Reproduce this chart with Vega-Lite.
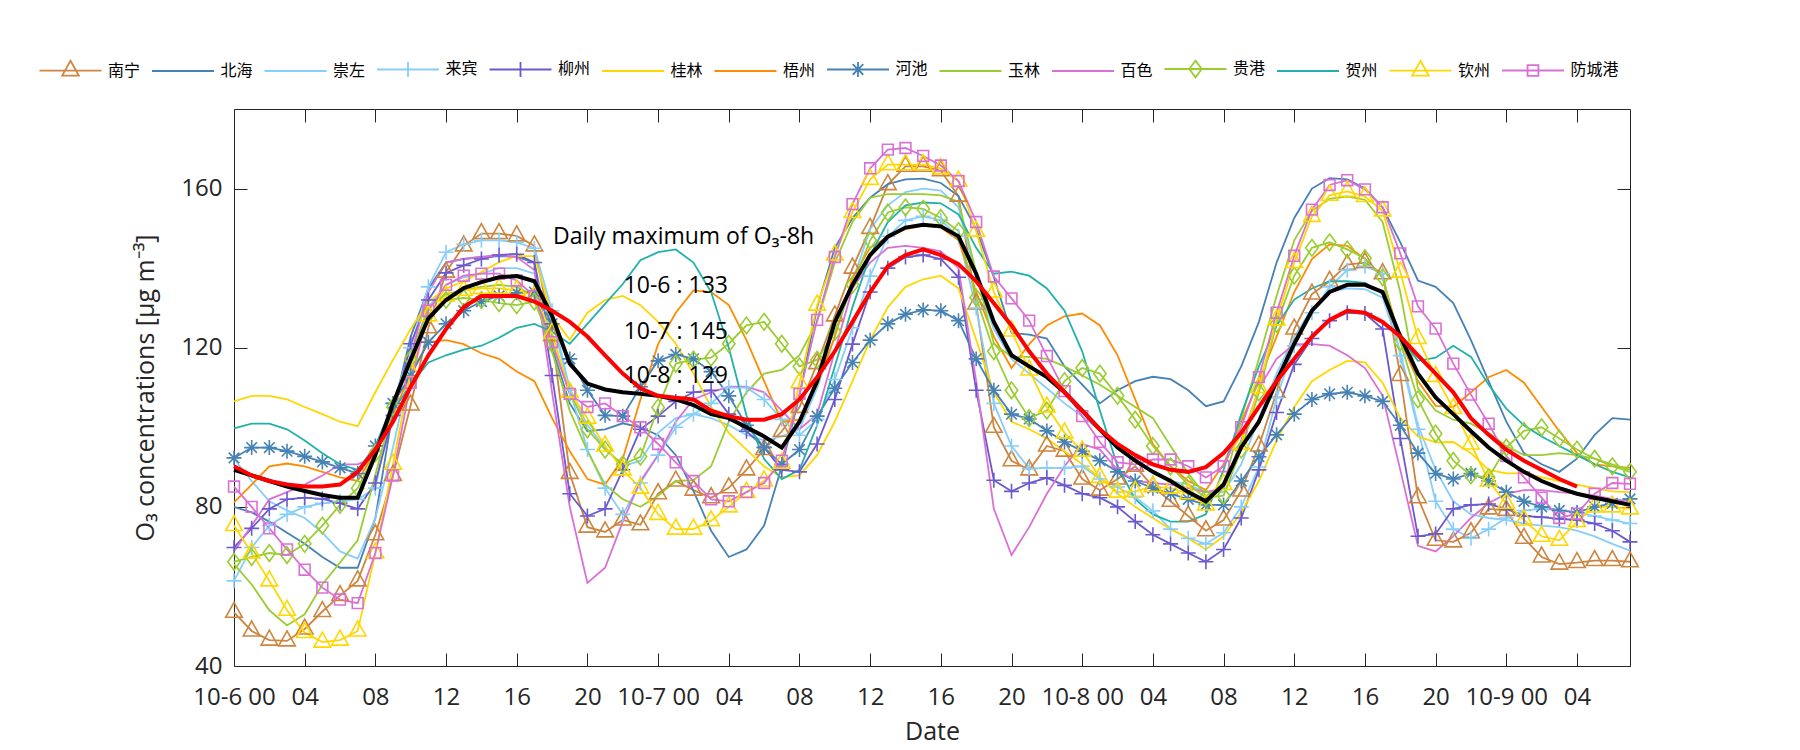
{
"$schema": "https://vega.github.io/schema/vega-lite/v6.json",
"width": 1396, "height": 557,
"autosize": {"type": "none"},
"padding": {"left": 234, "top": 109, "right": 170, "bottom": 84},
"background": "white",
"config": {
 "view": {"stroke": "#262626", "strokeWidth": 1},
 "font": "Open Sans",
 "axis": {"labelFont": "Open Sans", "titleFont": "Open Sans", "labelColor": "#262626", "titleColor": "#262626", "titleFontWeight": "normal", "tickColor": "#262626", "tickWidth": 1, "grid": false, "domain": false}
},
"datasets": {
"obs": [
{"stn":"南宁","hr":0,"o3":53.5},{"stn":"南宁","hr":1,"o3":48.8},{"stn":"南宁","hr":2,"o3":46.5},{"stn":"南宁","hr":3,"o3":46.3},{"stn":"南宁","hr":4,"o3":49.3},{"stn":"南宁","hr":5,"o3":53.7},{"stn":"南宁","hr":6,"o3":57.7},{"stn":"南宁","hr":7,"o3":61.4},{"stn":"南宁","hr":8,"o3":73},{"stn":"南宁","hr":9,"o3":87.9},
{"stn":"南宁","hr":10,"o3":105.6},{"stn":"南宁","hr":11,"o3":125},{"stn":"南宁","hr":12,"o3":139},{"stn":"南宁","hr":13,"o3":145.6},{"stn":"南宁","hr":14,"o3":148.7},{"stn":"南宁","hr":15,"o3":148.7},{"stn":"南宁","hr":16,"o3":148.1},{"stn":"南宁","hr":17,"o3":145.6},{"stn":"南宁","hr":18,"o3":123},{"stn":"南宁","hr":19,"o3":88.4},
{"stn":"南宁","hr":20,"o3":74.9},{"stn":"南宁","hr":21,"o3":73.7},{"stn":"南宁","hr":22,"o3":76.7},{"stn":"南宁","hr":23,"o3":75.5},{"stn":"南宁","hr":24,"o3":83.3},{"stn":"南宁","hr":25,"o3":86.5},{"stn":"南宁","hr":26,"o3":84.2},{"stn":"南宁","hr":27,"o3":82.3},{"stn":"南宁","hr":28,"o3":84.8},{"stn":"南宁","hr":29,"o3":89.3},
{"stn":"南宁","hr":30,"o3":94.4},{"stn":"南宁","hr":31,"o3":99},{"stn":"南宁","hr":32,"o3":105},{"stn":"南宁","hr":33,"o3":116},{"stn":"南宁","hr":34,"o3":128},{"stn":"南宁","hr":35,"o3":140},{"stn":"南宁","hr":36,"o3":150},{"stn":"南宁","hr":37,"o3":161},{"stn":"南宁","hr":38,"o3":165.6},{"stn":"南宁","hr":39,"o3":165.6},
{"stn":"南宁","hr":40,"o3":164.5},{"stn":"南宁","hr":41,"o3":158.1},{"stn":"南宁","hr":42,"o3":131},{"stn":"南宁","hr":43,"o3":100},{"stn":"南宁","hr":44,"o3":91.6},{"stn":"南宁","hr":45,"o3":89.3},{"stn":"南宁","hr":46,"o3":95.3},{"stn":"南宁","hr":47,"o3":94},{"stn":"南宁","hr":48,"o3":87},{"stn":"南宁","hr":49,"o3":84.2},
{"stn":"南宁","hr":50,"o3":87},{"stn":"南宁","hr":51,"o3":90.2},{"stn":"南宁","hr":52,"o3":85.1},{"stn":"南宁","hr":53,"o3":81.4},{"stn":"南宁","hr":54,"o3":77.7},{"stn":"南宁","hr":55,"o3":74},{"stn":"南宁","hr":56,"o3":76.7},{"stn":"南宁","hr":57,"o3":84},{"stn":"南宁","hr":58,"o3":95.3},{"stn":"南宁","hr":59,"o3":108.8},
{"stn":"南宁","hr":60,"o3":124.7},{"stn":"南宁","hr":61,"o3":133.5},{"stn":"南宁","hr":62,"o3":136.7},{"stn":"南宁","hr":63,"o3":140.9},{"stn":"南宁","hr":64,"o3":141.4},{"stn":"南宁","hr":65,"o3":138.6},{"stn":"南宁","hr":66,"o3":113},{"stn":"南宁","hr":67,"o3":82.3},{"stn":"南宁","hr":68,"o3":71.6},{"stn":"南宁","hr":69,"o3":71.2},
{"stn":"南宁","hr":70,"o3":73.5},{"stn":"南宁","hr":71,"o3":79.5},{"stn":"南宁","hr":72,"o3":79.1},{"stn":"南宁","hr":73,"o3":72.1},{"stn":"南宁","hr":74,"o3":67.4},{"stn":"南宁","hr":75,"o3":65.6},{"stn":"南宁","hr":76,"o3":66},{"stn":"南宁","hr":77,"o3":66.5},{"stn":"南宁","hr":78,"o3":66.5},{"stn":"南宁","hr":79,"o3":66.2},
{"stn":"北海","hr":0,"o3":80},{"stn":"北海","hr":1,"o3":78.6},{"stn":"北海","hr":2,"o3":76.3},{"stn":"北海","hr":3,"o3":73.5},{"stn":"北海","hr":4,"o3":70.7},{"stn":"北海","hr":5,"o3":67.4},{"stn":"北海","hr":6,"o3":64.7},{"stn":"北海","hr":7,"o3":64.7},{"stn":"北海","hr":8,"o3":77.2},{"stn":"北海","hr":9,"o3":104.2},
{"stn":"北海","hr":10,"o3":122.8},{"stn":"北海","hr":11,"o3":134.9},{"stn":"北海","hr":12,"o3":141.4},{"stn":"北海","hr":13,"o3":142.3},{"stn":"北海","hr":14,"o3":142.8},{"stn":"北海","hr":15,"o3":143},{"stn":"北海","hr":16,"o3":142.8},{"stn":"北海","hr":17,"o3":141.4},{"stn":"北海","hr":18,"o3":120},{"stn":"北海","hr":19,"o3":106},
{"stn":"北海","hr":20,"o3":99},{"stn":"北海","hr":21,"o3":99.5},{"stn":"北海","hr":22,"o3":101},{"stn":"北海","hr":23,"o3":100},{"stn":"北海","hr":24,"o3":98},{"stn":"北海","hr":25,"o3":93},{"stn":"北海","hr":26,"o3":84},{"stn":"北海","hr":27,"o3":74},{"stn":"北海","hr":28,"o3":67.4},{"stn":"北海","hr":29,"o3":69.3},
{"stn":"北海","hr":30,"o3":75.3},{"stn":"北海","hr":31,"o3":90.2},{"stn":"北海","hr":32,"o3":107.9},{"stn":"北海","hr":33,"o3":130.2},{"stn":"北海","hr":34,"o3":145.1},{"stn":"北海","hr":35,"o3":152.6},{"stn":"北海","hr":36,"o3":157.7},{"stn":"北海","hr":37,"o3":161.1},{"stn":"北海","hr":38,"o3":162.3},{"stn":"北海","hr":39,"o3":162.5},
{"stn":"北海","hr":40,"o3":161.4},{"stn":"北海","hr":41,"o3":158.1},{"stn":"北海","hr":42,"o3":149.8},{"stn":"北海","hr":43,"o3":137.7},{"stn":"北海","hr":44,"o3":123.7},{"stn":"北海","hr":45,"o3":123.3},{"stn":"北海","hr":46,"o3":122.3},{"stn":"北海","hr":47,"o3":115.3},{"stn":"北海","hr":48,"o3":110.7},{"stn":"北海","hr":49,"o3":106},
{"stn":"北海","hr":50,"o3":109.3},{"stn":"北海","hr":51,"o3":111.6},{"stn":"北海","hr":52,"o3":112.7},{"stn":"北海","hr":53,"o3":112.1},{"stn":"北海","hr":54,"o3":109.3},{"stn":"北海","hr":55,"o3":105.3},{"stn":"北海","hr":56,"o3":106.5},{"stn":"北海","hr":57,"o3":115.3},{"stn":"北海","hr":58,"o3":126.5},{"stn":"北海","hr":59,"o3":141.4},
{"stn":"北海","hr":60,"o3":152.6},{"stn":"北海","hr":61,"o3":160},{"stn":"北海","hr":62,"o3":162.6},{"stn":"北海","hr":63,"o3":162.3},{"stn":"北海","hr":64,"o3":160},{"stn":"北海","hr":65,"o3":155.3},{"stn":"北海","hr":66,"o3":146.5},{"stn":"北海","hr":67,"o3":136.9},{"stn":"北海","hr":68,"o3":135.3},{"stn":"北海","hr":69,"o3":131.2},
{"stn":"北海","hr":70,"o3":121.9},{"stn":"北海","hr":71,"o3":111.6},{"stn":"北海","hr":72,"o3":101.4},{"stn":"北海","hr":73,"o3":93.5},{"stn":"北海","hr":74,"o3":90.7},{"stn":"北海","hr":75,"o3":88.8},{"stn":"北海","hr":76,"o3":92.1},{"stn":"北海","hr":77,"o3":98.1},{"stn":"北海","hr":78,"o3":102.3},{"stn":"北海","hr":79,"o3":101.9},
{"stn":"崇左","hr":0,"o3":92.1},{"stn":"崇左","hr":1,"o3":86.5},{"stn":"崇左","hr":2,"o3":81.4},{"stn":"崇左","hr":3,"o3":79.1},{"stn":"崇左","hr":4,"o3":77.2},{"stn":"崇左","hr":5,"o3":73.5},{"stn":"崇左","hr":6,"o3":68.8},{"stn":"崇左","hr":7,"o3":67},{"stn":"崇左","hr":8,"o3":77.2},{"stn":"崇左","hr":9,"o3":95},
{"stn":"崇左","hr":10,"o3":115.3},{"stn":"崇左","hr":11,"o3":130.2},{"stn":"崇左","hr":12,"o3":135.8},{"stn":"崇左","hr":13,"o3":137.7},{"stn":"崇左","hr":14,"o3":138.6},{"stn":"崇左","hr":15,"o3":140},{"stn":"崇左","hr":16,"o3":140},{"stn":"崇左","hr":17,"o3":138.6},{"stn":"崇左","hr":18,"o3":126.5},{"stn":"崇左","hr":19,"o3":109.8},
{"stn":"崇左","hr":20,"o3":100.5},{"stn":"崇左","hr":21,"o3":94.9},{"stn":"崇左","hr":22,"o3":90.2},{"stn":"崇左","hr":23,"o3":91.6},{"stn":"崇左","hr":24,"o3":98.6},{"stn":"崇左","hr":25,"o3":102.3},{"stn":"崇左","hr":26,"o3":103.3},{"stn":"崇左","hr":27,"o3":102.3},{"stn":"崇左","hr":28,"o3":100.5},{"stn":"崇左","hr":29,"o3":98.1},
{"stn":"崇左","hr":30,"o3":96.7},{"stn":"崇左","hr":31,"o3":97.7},{"stn":"崇左","hr":32,"o3":99.5},{"stn":"崇左","hr":33,"o3":109.8},{"stn":"崇左","hr":34,"o3":122.8},{"stn":"崇左","hr":35,"o3":136.7},{"stn":"崇左","hr":36,"o3":149.8},{"stn":"崇左","hr":37,"o3":155.8},{"stn":"崇左","hr":38,"o3":159.1},{"stn":"崇左","hr":39,"o3":160},
{"stn":"崇左","hr":40,"o3":159.5},{"stn":"崇左","hr":41,"o3":155.3},{"stn":"崇左","hr":42,"o3":137.7},{"stn":"崇左","hr":43,"o3":124.7},{"stn":"崇左","hr":44,"o3":117.2},{"stn":"崇左","hr":45,"o3":113.5},{"stn":"崇左","hr":46,"o3":109.8},{"stn":"崇左","hr":47,"o3":106},{"stn":"崇左","hr":48,"o3":102.8},{"stn":"崇左","hr":49,"o3":99.1},
{"stn":"崇左","hr":50,"o3":95.3},{"stn":"崇左","hr":51,"o3":91.6},{"stn":"崇左","hr":52,"o3":88.4},{"stn":"崇左","hr":53,"o3":86.5},{"stn":"崇左","hr":54,"o3":85.6},{"stn":"崇左","hr":55,"o3":83.7},{"stn":"崇左","hr":56,"o3":83.7},{"stn":"崇左","hr":57,"o3":90.7},{"stn":"崇左","hr":58,"o3":102.3},{"stn":"崇左","hr":59,"o3":113.5},
{"stn":"崇左","hr":60,"o3":122.8},{"stn":"崇左","hr":61,"o3":129.8},{"stn":"崇左","hr":62,"o3":134},{"stn":"崇左","hr":63,"o3":134.9},{"stn":"崇左","hr":64,"o3":134.7},{"stn":"崇左","hr":65,"o3":132.6},{"stn":"崇左","hr":66,"o3":119.1},{"stn":"崇左","hr":67,"o3":100.5},{"stn":"崇左","hr":68,"o3":89.3},{"stn":"崇左","hr":69,"o3":81.4},
{"stn":"崇左","hr":70,"o3":78.1},{"stn":"崇左","hr":71,"o3":77.2},{"stn":"崇左","hr":72,"o3":76.7},{"stn":"崇左","hr":73,"o3":75.8},{"stn":"崇左","hr":74,"o3":75.3},{"stn":"崇左","hr":75,"o3":74.9},{"stn":"崇左","hr":76,"o3":74},{"stn":"崇左","hr":77,"o3":72.6},{"stn":"崇左","hr":78,"o3":70.7},{"stn":"崇左","hr":79,"o3":69},
{"stn":"来宾","hr":0,"o3":61.4},{"stn":"来宾","hr":1,"o3":69.8},{"stn":"来宾","hr":2,"o3":75.3},{"stn":"来宾","hr":3,"o3":78.1},{"stn":"来宾","hr":4,"o3":80},{"stn":"来宾","hr":5,"o3":80.9},{"stn":"来宾","hr":6,"o3":81.4},{"stn":"来宾","hr":7,"o3":81.9},{"stn":"来宾","hr":8,"o3":84.7},{"stn":"来宾","hr":9,"o3":106},
{"stn":"来宾","hr":10,"o3":120},{"stn":"来宾","hr":11,"o3":135.3},{"stn":"来宾","hr":12,"o3":144},{"stn":"来宾","hr":13,"o3":146},{"stn":"来宾","hr":14,"o3":147},{"stn":"来宾","hr":15,"o3":147},{"stn":"来宾","hr":16,"o3":146.5},{"stn":"来宾","hr":17,"o3":145},{"stn":"来宾","hr":18,"o3":129.3},{"stn":"来宾","hr":19,"o3":109.3},
{"stn":"来宾","hr":20,"o3":94.4},{"stn":"来宾","hr":21,"o3":84.7},{"stn":"来宾","hr":22,"o3":78.1},{"stn":"来宾","hr":23,"o3":86},{"stn":"来宾","hr":24,"o3":93},{"stn":"来宾","hr":25,"o3":100},{"stn":"来宾","hr":26,"o3":103.3},{"stn":"来宾","hr":27,"o3":106},{"stn":"来宾","hr":28,"o3":110},{"stn":"来宾","hr":29,"o3":110},
{"stn":"来宾","hr":30,"o3":107},{"stn":"来宾","hr":31,"o3":102},{"stn":"来宾","hr":32,"o3":98},{"stn":"来宾","hr":33,"o3":102},{"stn":"来宾","hr":34,"o3":112},{"stn":"来宾","hr":35,"o3":125},{"stn":"来宾","hr":36,"o3":138},{"stn":"来宾","hr":37,"o3":148},{"stn":"来宾","hr":38,"o3":152},{"stn":"来宾","hr":39,"o3":153},
{"stn":"来宾","hr":40,"o3":152},{"stn":"来宾","hr":41,"o3":148},{"stn":"来宾","hr":42,"o3":130},{"stn":"来宾","hr":43,"o3":106},{"stn":"来宾","hr":44,"o3":95.3},{"stn":"来宾","hr":45,"o3":89.6},{"stn":"来宾","hr":46,"o3":89.8},{"stn":"来宾","hr":47,"o3":89.8},{"stn":"来宾","hr":48,"o3":90.2},{"stn":"来宾","hr":49,"o3":87},
{"stn":"来宾","hr":50,"o3":85},{"stn":"来宾","hr":51,"o3":82.5},{"stn":"来宾","hr":52,"o3":79},{"stn":"来宾","hr":53,"o3":74.4},{"stn":"来宾","hr":54,"o3":72.1},{"stn":"来宾","hr":55,"o3":70.7},{"stn":"来宾","hr":56,"o3":73.5},{"stn":"来宾","hr":57,"o3":80},{"stn":"来宾","hr":58,"o3":90},{"stn":"来宾","hr":59,"o3":107.4},
{"stn":"来宾","hr":60,"o3":120.5},{"stn":"来宾","hr":61,"o3":128.8},{"stn":"来宾","hr":62,"o3":135.3},{"stn":"来宾","hr":63,"o3":139.5},{"stn":"来宾","hr":64,"o3":140.5},{"stn":"来宾","hr":65,"o3":138.6},{"stn":"来宾","hr":66,"o3":118},{"stn":"来宾","hr":67,"o3":99.5},{"stn":"来宾","hr":68,"o3":81.4},{"stn":"来宾","hr":69,"o3":74.4},
{"stn":"来宾","hr":70,"o3":72.1},{"stn":"来宾","hr":71,"o3":74.4},{"stn":"来宾","hr":72,"o3":77.2},{"stn":"来宾","hr":73,"o3":79.1},{"stn":"来宾","hr":74,"o3":79.5},{"stn":"来宾","hr":75,"o3":79.1},{"stn":"来宾","hr":76,"o3":78.6},{"stn":"来宾","hr":77,"o3":77.7},{"stn":"来宾","hr":78,"o3":76.7},{"stn":"来宾","hr":79,"o3":75.8},
{"stn":"柳州","hr":0,"o3":69.8},{"stn":"柳州","hr":1,"o3":74.6},{"stn":"柳州","hr":2,"o3":79.5},{"stn":"柳州","hr":3,"o3":81.9},{"stn":"柳州","hr":4,"o3":82.3},{"stn":"柳州","hr":5,"o3":82},{"stn":"柳州","hr":6,"o3":80.9},{"stn":"柳州","hr":7,"o3":79.5},{"stn":"柳州","hr":8,"o3":86},{"stn":"柳州","hr":9,"o3":103},
{"stn":"柳州","hr":10,"o3":121},{"stn":"柳州","hr":11,"o3":132},{"stn":"柳州","hr":12,"o3":138.8},{"stn":"柳州","hr":13,"o3":140.7},{"stn":"柳州","hr":14,"o3":142.3},{"stn":"柳州","hr":15,"o3":143.3},{"stn":"柳州","hr":16,"o3":143.5},{"stn":"柳州","hr":17,"o3":141.4},{"stn":"柳州","hr":18,"o3":113},{"stn":"柳州","hr":19,"o3":83.3},
{"stn":"柳州","hr":20,"o3":77.7},{"stn":"柳州","hr":21,"o3":79.5},{"stn":"柳州","hr":22,"o3":89.3},{"stn":"柳州","hr":23,"o3":99.5},{"stn":"柳州","hr":24,"o3":102.8},{"stn":"柳州","hr":25,"o3":106.5},{"stn":"柳州","hr":26,"o3":108.8},{"stn":"柳州","hr":27,"o3":109.3},{"stn":"柳州","hr":28,"o3":103.3},{"stn":"柳州","hr":29,"o3":99},
{"stn":"柳州","hr":30,"o3":95},{"stn":"柳州","hr":31,"o3":89.3},{"stn":"柳州","hr":32,"o3":88.8},{"stn":"柳州","hr":33,"o3":95.8},{"stn":"柳州","hr":34,"o3":107},{"stn":"柳州","hr":35,"o3":120.9},{"stn":"柳州","hr":36,"o3":134},{"stn":"柳州","hr":37,"o3":140},{"stn":"柳州","hr":38,"o3":142.8},{"stn":"柳州","hr":39,"o3":143.3},
{"stn":"柳州","hr":40,"o3":142.3},{"stn":"柳州","hr":41,"o3":137.7},{"stn":"柳州","hr":42,"o3":109.3},{"stn":"柳州","hr":43,"o3":86.7},{"stn":"柳州","hr":44,"o3":83.9},{"stn":"柳州","hr":45,"o3":86},{"stn":"柳州","hr":46,"o3":87.3},{"stn":"柳州","hr":47,"o3":85.4},{"stn":"柳州","hr":48,"o3":83.3},{"stn":"柳州","hr":49,"o3":82.3},
{"stn":"柳州","hr":50,"o3":80},{"stn":"柳州","hr":51,"o3":76.3},{"stn":"柳州","hr":52,"o3":73},{"stn":"柳州","hr":53,"o3":70.7},{"stn":"柳州","hr":54,"o3":68.4},{"stn":"柳州","hr":55,"o3":66.2},{"stn":"柳州","hr":56,"o3":69.3},{"stn":"柳州","hr":57,"o3":77.2},{"stn":"柳州","hr":58,"o3":89.3},{"stn":"柳州","hr":59,"o3":103.7},
{"stn":"柳州","hr":60,"o3":115.8},{"stn":"柳州","hr":61,"o3":122.3},{"stn":"柳州","hr":62,"o3":126.8},{"stn":"柳州","hr":63,"o3":128.8},{"stn":"柳州","hr":64,"o3":128.6},{"stn":"柳州","hr":65,"o3":124.7},{"stn":"柳州","hr":66,"o3":97.2},{"stn":"柳州","hr":67,"o3":72.6},{"stn":"柳州","hr":68,"o3":73.2},{"stn":"柳州","hr":69,"o3":79.5},
{"stn":"柳州","hr":70,"o3":80.5},{"stn":"柳州","hr":71,"o3":80.7},{"stn":"柳州","hr":72,"o3":79.5},{"stn":"柳州","hr":73,"o3":77.7},{"stn":"柳州","hr":74,"o3":77.4},{"stn":"柳州","hr":75,"o3":77},{"stn":"柳州","hr":76,"o3":76.7},{"stn":"柳州","hr":77,"o3":75.8},{"stn":"柳州","hr":78,"o3":74},{"stn":"柳州","hr":79,"o3":71.2},
{"stn":"桂林","hr":0,"o3":106.5},{"stn":"桂林","hr":1,"o3":107.9},{"stn":"桂林","hr":2,"o3":107.9},{"stn":"桂林","hr":3,"o3":107},{"stn":"桂林","hr":4,"o3":105.1},{"stn":"桂林","hr":5,"o3":103.3},{"stn":"桂林","hr":6,"o3":101.4},{"stn":"桂林","hr":7,"o3":100.3},{"stn":"桂林","hr":8,"o3":108.8},{"stn":"桂林","hr":9,"o3":117},
{"stn":"桂林","hr":10,"o3":124.7},{"stn":"桂林","hr":11,"o3":131.6},{"stn":"桂林","hr":12,"o3":134.9},{"stn":"桂林","hr":13,"o3":136.7},{"stn":"桂林","hr":14,"o3":139},{"stn":"桂林","hr":15,"o3":141.5},{"stn":"桂林","hr":16,"o3":143},{"stn":"桂林","hr":17,"o3":143},{"stn":"桂林","hr":18,"o3":128},{"stn":"桂林","hr":19,"o3":122},
{"stn":"桂林","hr":20,"o3":128.8},{"stn":"桂林","hr":21,"o3":132},{"stn":"桂林","hr":22,"o3":133},{"stn":"桂林","hr":23,"o3":130.7},{"stn":"桂林","hr":24,"o3":126.5},{"stn":"桂林","hr":25,"o3":121},{"stn":"桂林","hr":26,"o3":113.5},{"stn":"桂林","hr":27,"o3":105.1},{"stn":"桂林","hr":28,"o3":98.6},{"stn":"桂林","hr":29,"o3":94.4},
{"stn":"桂林","hr":30,"o3":90.2},{"stn":"桂林","hr":31,"o3":87.4},{"stn":"桂林","hr":32,"o3":87.9},{"stn":"桂林","hr":33,"o3":93},{"stn":"桂林","hr":34,"o3":101.4},{"stn":"桂林","hr":35,"o3":111.6},{"stn":"桂林","hr":36,"o3":121.9},{"stn":"桂林","hr":37,"o3":130.2},{"stn":"桂林","hr":38,"o3":135.3},{"stn":"桂林","hr":39,"o3":137.2},
{"stn":"桂林","hr":40,"o3":138.1},{"stn":"桂林","hr":41,"o3":134.9},{"stn":"桂林","hr":42,"o3":122},{"stn":"桂林","hr":43,"o3":108.8},{"stn":"桂林","hr":44,"o3":101.4},{"stn":"桂林","hr":45,"o3":99.5},{"stn":"桂林","hr":46,"o3":97.2},{"stn":"桂林","hr":47,"o3":94},{"stn":"桂林","hr":48,"o3":90.7},{"stn":"桂林","hr":49,"o3":87.4},
{"stn":"桂林","hr":50,"o3":83.3},{"stn":"桂林","hr":51,"o3":80},{"stn":"桂林","hr":52,"o3":77.2},{"stn":"桂林","hr":53,"o3":74.4},{"stn":"桂林","hr":54,"o3":72.1},{"stn":"桂林","hr":55,"o3":69.3},{"stn":"桂林","hr":56,"o3":72.6},{"stn":"桂林","hr":57,"o3":78.6},{"stn":"桂林","hr":58,"o3":86.5},{"stn":"桂林","hr":59,"o3":96.7},
{"stn":"桂林","hr":60,"o3":105.1},{"stn":"桂林","hr":61,"o3":111.6},{"stn":"桂林","hr":62,"o3":114.4},{"stn":"桂林","hr":63,"o3":116.7},{"stn":"桂林","hr":64,"o3":116.3},{"stn":"桂林","hr":65,"o3":111.2},{"stn":"桂林","hr":66,"o3":102.3},{"stn":"桂林","hr":67,"o3":97.7},{"stn":"桂林","hr":68,"o3":96.2},{"stn":"桂林","hr":69,"o3":96.3},
{"stn":"桂林","hr":70,"o3":93.5},{"stn":"桂林","hr":71,"o3":89.3},{"stn":"桂林","hr":72,"o3":88.4},{"stn":"桂林","hr":73,"o3":88.4},{"stn":"桂林","hr":74,"o3":87.4},{"stn":"桂林","hr":75,"o3":86.5},{"stn":"桂林","hr":76,"o3":85.6},{"stn":"桂林","hr":77,"o3":84.7},{"stn":"桂林","hr":78,"o3":83.9},{"stn":"桂林","hr":79,"o3":83.7},
{"stn":"梧州","hr":0,"o3":81.1},{"stn":"梧州","hr":1,"o3":85.6},{"stn":"梧州","hr":2,"o3":90.2},{"stn":"梧州","hr":3,"o3":90.9},{"stn":"梧州","hr":4,"o3":90.2},{"stn":"梧州","hr":5,"o3":88.8},{"stn":"梧州","hr":6,"o3":87.4},{"stn":"梧州","hr":7,"o3":86.5},{"stn":"梧州","hr":8,"o3":94},{"stn":"梧州","hr":9,"o3":103.3},
{"stn":"梧州","hr":10,"o3":113.5},{"stn":"梧州","hr":11,"o3":121.4},{"stn":"梧州","hr":12,"o3":121.9},{"stn":"梧州","hr":13,"o3":120.9},{"stn":"梧州","hr":14,"o3":118.6},{"stn":"梧州","hr":15,"o3":117.2},{"stn":"梧州","hr":16,"o3":114},{"stn":"梧州","hr":17,"o3":111.6},{"stn":"梧州","hr":18,"o3":102.3},{"stn":"梧州","hr":19,"o3":94},
{"stn":"梧州","hr":20,"o3":87},{"stn":"梧州","hr":21,"o3":85.6},{"stn":"梧州","hr":22,"o3":92.1},{"stn":"梧州","hr":23,"o3":107},{"stn":"梧州","hr":24,"o3":120.9},{"stn":"梧州","hr":25,"o3":128.8},{"stn":"梧州","hr":26,"o3":134.4},{"stn":"梧州","hr":27,"o3":134},{"stn":"梧州","hr":28,"o3":130.7},{"stn":"梧州","hr":29,"o3":121.9},
{"stn":"梧州","hr":30,"o3":111.6},{"stn":"梧州","hr":31,"o3":101.4},{"stn":"梧州","hr":32,"o3":101.9},{"stn":"梧州","hr":33,"o3":110.7},{"stn":"梧州","hr":34,"o3":122.8},{"stn":"梧州","hr":35,"o3":137.7},{"stn":"梧州","hr":36,"o3":145.1},{"stn":"梧州","hr":37,"o3":147.9},{"stn":"梧州","hr":38,"o3":149.8},{"stn":"梧州","hr":39,"o3":150.7},
{"stn":"梧州","hr":40,"o3":150.2},{"stn":"梧州","hr":41,"o3":147},{"stn":"梧州","hr":42,"o3":134},{"stn":"梧州","hr":43,"o3":122.8},{"stn":"梧州","hr":44,"o3":114.9},{"stn":"梧州","hr":45,"o3":120.9},{"stn":"梧州","hr":46,"o3":125.6},{"stn":"梧州","hr":47,"o3":127.9},{"stn":"梧州","hr":48,"o3":128.6},{"stn":"梧州","hr":49,"o3":125.6},
{"stn":"梧州","hr":50,"o3":118.1},{"stn":"梧州","hr":51,"o3":107},{"stn":"梧州","hr":52,"o3":95.8},{"stn":"梧州","hr":53,"o3":90.2},{"stn":"梧州","hr":54,"o3":86.5},{"stn":"梧州","hr":55,"o3":84.2},{"stn":"梧州","hr":56,"o3":90.7},{"stn":"梧州","hr":57,"o3":101.4},{"stn":"梧州","hr":58,"o3":111.6},{"stn":"梧州","hr":59,"o3":122.8},
{"stn":"梧州","hr":60,"o3":134},{"stn":"梧州","hr":61,"o3":142.3},{"stn":"梧州","hr":62,"o3":146},{"stn":"梧州","hr":63,"o3":145.6},{"stn":"梧州","hr":64,"o3":142.3},{"stn":"梧州","hr":65,"o3":137.7},{"stn":"梧州","hr":66,"o3":121.9},{"stn":"梧州","hr":67,"o3":111.6},{"stn":"梧州","hr":68,"o3":105.4},{"stn":"梧州","hr":69,"o3":105.1},
{"stn":"梧州","hr":70,"o3":108.8},{"stn":"梧州","hr":71,"o3":112.6},{"stn":"梧州","hr":72,"o3":114.4},{"stn":"梧州","hr":73,"o3":111.2},{"stn":"梧州","hr":74,"o3":105.1},{"stn":"梧州","hr":75,"o3":99},{"stn":"梧州","hr":76,"o3":93.5},{"stn":"梧州","hr":77,"o3":90.7},{"stn":"梧州","hr":78,"o3":90.2},{"stn":"梧州","hr":79,"o3":89.8},
{"stn":"河池","hr":0,"o3":92.3},{"stn":"河池","hr":1,"o3":94.9},{"stn":"河池","hr":2,"o3":94.9},{"stn":"河池","hr":3,"o3":94},{"stn":"河池","hr":4,"o3":92.7},{"stn":"河池","hr":5,"o3":91.3},{"stn":"河池","hr":6,"o3":89.8},{"stn":"河池","hr":7,"o3":88.4},{"stn":"河池","hr":8,"o3":95.3},{"stn":"河池","hr":9,"o3":106},
{"stn":"河池","hr":10,"o3":113},{"stn":"河池","hr":11,"o3":121.4},{"stn":"河池","hr":12,"o3":126},{"stn":"河池","hr":13,"o3":129.3},{"stn":"河池","hr":14,"o3":131.6},{"stn":"河池","hr":15,"o3":133},{"stn":"河池","hr":16,"o3":133.8},{"stn":"河池","hr":17,"o3":134},{"stn":"河池","hr":18,"o3":126},{"stn":"河池","hr":19,"o3":117.2},
{"stn":"河池","hr":20,"o3":109.3},{"stn":"河池","hr":21,"o3":103},{"stn":"河池","hr":22,"o3":102.8},{"stn":"河池","hr":23,"o3":110.2},{"stn":"河池","hr":24,"o3":116.7},{"stn":"河池","hr":25,"o3":118.3},{"stn":"河池","hr":26,"o3":117.2},{"stn":"河池","hr":27,"o3":114},{"stn":"河池","hr":28,"o3":107.9},{"stn":"河池","hr":29,"o3":100.5},
{"stn":"河池","hr":30,"o3":94.9},{"stn":"河池","hr":31,"o3":90.7},{"stn":"河池","hr":32,"o3":94.4},{"stn":"河池","hr":33,"o3":102.8},{"stn":"河池","hr":34,"o3":109.8},{"stn":"河池","hr":35,"o3":116.3},{"stn":"河池","hr":36,"o3":121.9},{"stn":"河池","hr":37,"o3":126},{"stn":"河池","hr":38,"o3":128.4},{"stn":"河池","hr":39,"o3":129.5},
{"stn":"河池","hr":40,"o3":129.3},{"stn":"河池","hr":41,"o3":126.8},{"stn":"河池","hr":42,"o3":117.2},{"stn":"河池","hr":43,"o3":109.3},{"stn":"河池","hr":44,"o3":103.3},{"stn":"河池","hr":45,"o3":102.1},{"stn":"河池","hr":46,"o3":99.1},{"stn":"河池","hr":47,"o3":96.3},{"stn":"河池","hr":48,"o3":94},{"stn":"河池","hr":49,"o3":91.6},
{"stn":"河池","hr":50,"o3":88.8},{"stn":"河池","hr":51,"o3":86.5},{"stn":"河池","hr":52,"o3":84.7},{"stn":"河池","hr":53,"o3":83.3},{"stn":"河池","hr":54,"o3":81.9},{"stn":"河池","hr":55,"o3":80.5},{"stn":"河池","hr":56,"o3":80.5},{"stn":"河池","hr":57,"o3":86.5},{"stn":"河池","hr":58,"o3":92.6},{"stn":"河池","hr":59,"o3":98.1},
{"stn":"河池","hr":60,"o3":103.3},{"stn":"河池","hr":61,"o3":107},{"stn":"河池","hr":62,"o3":108.4},{"stn":"河池","hr":63,"o3":108.8},{"stn":"河池","hr":64,"o3":107.9},{"stn":"河池","hr":65,"o3":106.5},{"stn":"河池","hr":66,"o3":100.5},{"stn":"河池","hr":67,"o3":93.5},{"stn":"河池","hr":68,"o3":88.4},{"stn":"河池","hr":69,"o3":87},
{"stn":"河池","hr":70,"o3":88.4},{"stn":"河池","hr":71,"o3":86.5},{"stn":"河池","hr":72,"o3":83.7},{"stn":"河池","hr":73,"o3":81.4},{"stn":"河池","hr":74,"o3":80},{"stn":"河池","hr":75,"o3":79.1},{"stn":"河池","hr":76,"o3":78.6},{"stn":"河池","hr":77,"o3":80},{"stn":"河池","hr":78,"o3":80.9},{"stn":"河池","hr":79,"o3":82},
{"stn":"玉林","hr":0,"o3":65.6},{"stn":"玉林","hr":1,"o3":60.5},{"stn":"玉林","hr":2,"o3":54},{"stn":"玉林","hr":3,"o3":50.2},{"stn":"玉林","hr":4,"o3":53},{"stn":"玉林","hr":5,"o3":60.5},{"stn":"玉林","hr":6,"o3":66},{"stn":"玉林","hr":7,"o3":71.6},{"stn":"玉林","hr":8,"o3":88},{"stn":"玉林","hr":9,"o3":105.1},
{"stn":"玉林","hr":10,"o3":118.1},{"stn":"玉林","hr":11,"o3":130.2},{"stn":"玉林","hr":12,"o3":133.5},{"stn":"玉林","hr":13,"o3":134.5},{"stn":"玉林","hr":14,"o3":135.3},{"stn":"玉林","hr":15,"o3":135.8},{"stn":"玉林","hr":16,"o3":135.3},{"stn":"玉林","hr":17,"o3":133},{"stn":"玉林","hr":18,"o3":119},{"stn":"玉林","hr":19,"o3":104.2},
{"stn":"玉林","hr":20,"o3":94},{"stn":"玉林","hr":21,"o3":85.6},{"stn":"玉林","hr":22,"o3":81.9},{"stn":"玉林","hr":23,"o3":80},{"stn":"玉林","hr":24,"o3":82.8},{"stn":"玉林","hr":25,"o3":86.5},{"stn":"玉林","hr":26,"o3":86.7},{"stn":"玉林","hr":27,"o3":90.2},{"stn":"玉林","hr":28,"o3":101.4},{"stn":"玉林","hr":29,"o3":108.8},
{"stn":"玉林","hr":30,"o3":113.5},{"stn":"玉林","hr":31,"o3":114.4},{"stn":"玉林","hr":32,"o3":118.1},{"stn":"玉林","hr":33,"o3":126.5},{"stn":"玉林","hr":34,"o3":141.4},{"stn":"玉林","hr":35,"o3":151.6},{"stn":"玉林","hr":36,"o3":157.7},{"stn":"玉林","hr":37,"o3":158.6},{"stn":"玉林","hr":38,"o3":158.6},{"stn":"玉林","hr":39,"o3":158.6},
{"stn":"玉林","hr":40,"o3":158.3},{"stn":"玉林","hr":41,"o3":156.7},{"stn":"玉林","hr":42,"o3":139},{"stn":"玉林","hr":43,"o3":121},{"stn":"玉林","hr":44,"o3":117.7},{"stn":"玉林","hr":45,"o3":117.7},{"stn":"玉林","hr":46,"o3":117.2},{"stn":"玉林","hr":47,"o3":115.3},{"stn":"玉林","hr":48,"o3":113},{"stn":"玉林","hr":49,"o3":110.7},
{"stn":"玉林","hr":50,"o3":107.9},{"stn":"玉林","hr":51,"o3":105.1},{"stn":"玉林","hr":52,"o3":102.3},{"stn":"玉林","hr":53,"o3":95.3},{"stn":"玉林","hr":54,"o3":88.4},{"stn":"玉林","hr":55,"o3":82.8},{"stn":"玉林","hr":56,"o3":85.1},{"stn":"玉林","hr":57,"o3":102.3},{"stn":"玉林","hr":58,"o3":117.2},{"stn":"玉林","hr":59,"o3":133},
{"stn":"玉林","hr":60,"o3":147},{"stn":"玉林","hr":61,"o3":154.4},{"stn":"玉林","hr":62,"o3":157.4},{"stn":"玉林","hr":63,"o3":158},{"stn":"玉林","hr":64,"o3":157.2},{"stn":"玉林","hr":65,"o3":151.6},{"stn":"玉林","hr":66,"o3":134},{"stn":"玉林","hr":67,"o3":109.8},{"stn":"玉林","hr":68,"o3":104.2},{"stn":"玉林","hr":69,"o3":101.9},
{"stn":"玉林","hr":70,"o3":100.9},{"stn":"玉林","hr":71,"o3":98.6},{"stn":"玉林","hr":72,"o3":95.3},{"stn":"玉林","hr":73,"o3":93},{"stn":"玉林","hr":74,"o3":93},{"stn":"玉林","hr":75,"o3":93.5},{"stn":"玉林","hr":76,"o3":93},{"stn":"玉林","hr":77,"o3":92.1},{"stn":"玉林","hr":78,"o3":90.7},{"stn":"玉林","hr":79,"o3":89.3},
{"stn":"百色","hr":0,"o3":68.8},{"stn":"百色","hr":1,"o3":75.3},{"stn":"百色","hr":2,"o3":81.9},{"stn":"百色","hr":3,"o3":83.7},{"stn":"百色","hr":4,"o3":85.6},{"stn":"百色","hr":5,"o3":87.9},{"stn":"百色","hr":6,"o3":90.7},{"stn":"百色","hr":7,"o3":90.7},{"stn":"百色","hr":8,"o3":92.6},{"stn":"百色","hr":9,"o3":105.1},
{"stn":"百色","hr":10,"o3":118.1},{"stn":"百色","hr":11,"o3":134},{"stn":"百色","hr":12,"o3":141.4},{"stn":"百色","hr":13,"o3":142.3},{"stn":"百色","hr":14,"o3":142.8},{"stn":"百色","hr":15,"o3":143.3},{"stn":"百色","hr":16,"o3":142.8},{"stn":"百色","hr":17,"o3":139.5},{"stn":"百色","hr":18,"o3":108.8},{"stn":"百色","hr":19,"o3":80},
{"stn":"百色","hr":20,"o3":60.9},{"stn":"百色","hr":21,"o3":64.7},{"stn":"百色","hr":22,"o3":76.3},{"stn":"百色","hr":23,"o3":86.5},{"stn":"百色","hr":24,"o3":93},{"stn":"百色","hr":25,"o3":101.4},{"stn":"百色","hr":26,"o3":107},{"stn":"百色","hr":27,"o3":108.8},{"stn":"百色","hr":28,"o3":110.2},{"stn":"百色","hr":29,"o3":110.2},
{"stn":"百色","hr":30,"o3":108.8},{"stn":"百色","hr":31,"o3":104.2},{"stn":"百色","hr":32,"o3":99.5},{"stn":"百色","hr":33,"o3":103.3},{"stn":"百色","hr":34,"o3":119.1},{"stn":"百色","hr":35,"o3":134.9},{"stn":"百色","hr":36,"o3":141.4},{"stn":"百色","hr":37,"o3":145.1},{"stn":"百色","hr":38,"o3":145.6},{"stn":"百色","hr":39,"o3":145.1},
{"stn":"百色","hr":40,"o3":144.2},{"stn":"百色","hr":41,"o3":140},{"stn":"百色","hr":42,"o3":111.6},{"stn":"百色","hr":43,"o3":79.5},{"stn":"百色","hr":44,"o3":67.9},{"stn":"百色","hr":45,"o3":74.9},{"stn":"百色","hr":46,"o3":83.3},{"stn":"百色","hr":47,"o3":90.2},{"stn":"百色","hr":48,"o3":95.8},{"stn":"百色","hr":49,"o3":94.4},
{"stn":"百色","hr":50,"o3":89.3},{"stn":"百色","hr":51,"o3":86.5},{"stn":"百色","hr":52,"o3":86},{"stn":"百色","hr":53,"o3":85.6},{"stn":"百色","hr":54,"o3":84.7},{"stn":"百色","hr":55,"o3":83.7},{"stn":"百色","hr":56,"o3":84.7},{"stn":"百色","hr":57,"o3":96.7},{"stn":"百色","hr":58,"o3":109.8},{"stn":"百色","hr":59,"o3":117.2},
{"stn":"百色","hr":60,"o3":120.9},{"stn":"百色","hr":61,"o3":120.9},{"stn":"百色","hr":62,"o3":120.5},{"stn":"百色","hr":63,"o3":118.1},{"stn":"百色","hr":64,"o3":114.9},{"stn":"百色","hr":65,"o3":107.9},{"stn":"百色","hr":66,"o3":89.3},{"stn":"百色","hr":67,"o3":70.2},{"stn":"百色","hr":68,"o3":68.8},{"stn":"百色","hr":69,"o3":72.6},
{"stn":"百色","hr":70,"o3":77.2},{"stn":"百色","hr":71,"o3":80.9},{"stn":"百色","hr":72,"o3":83.3},{"stn":"百色","hr":73,"o3":84.2},{"stn":"百色","hr":74,"o3":84.2},{"stn":"百色","hr":75,"o3":83.7},{"stn":"百色","hr":76,"o3":83.3},{"stn":"百色","hr":77,"o3":82.8},{"stn":"百色","hr":78,"o3":82},{"stn":"百色","hr":79,"o3":81.4},
{"stn":"贵港","hr":0,"o3":66.2},{"stn":"贵港","hr":1,"o3":67.4},{"stn":"贵港","hr":2,"o3":68.4},{"stn":"贵港","hr":3,"o3":67.9},{"stn":"贵港","hr":4,"o3":70.7},{"stn":"贵港","hr":5,"o3":75.3},{"stn":"贵港","hr":6,"o3":80.5},{"stn":"贵港","hr":7,"o3":84.7},{"stn":"贵港","hr":8,"o3":93.5},{"stn":"贵港","hr":9,"o3":105.1},
{"stn":"贵港","hr":10,"o3":117.2},{"stn":"贵港","hr":11,"o3":128.4},{"stn":"贵港","hr":12,"o3":132},{"stn":"贵港","hr":13,"o3":132.5},{"stn":"贵港","hr":14,"o3":132},{"stn":"贵港","hr":15,"o3":131.2},{"stn":"贵港","hr":16,"o3":130.7},{"stn":"贵港","hr":17,"o3":131.6},{"stn":"贵港","hr":18,"o3":120.9},{"stn":"贵港","hr":19,"o3":108.8},
{"stn":"贵港","hr":20,"o3":99.5},{"stn":"贵港","hr":21,"o3":94.4},{"stn":"贵港","hr":22,"o3":90.7},{"stn":"贵港","hr":23,"o3":92.6},{"stn":"贵港","hr":24,"o3":105},{"stn":"贵港","hr":25,"o3":116},{"stn":"贵港","hr":26,"o3":117},{"stn":"贵港","hr":27,"o3":117.5},{"stn":"贵港","hr":28,"o3":121},{"stn":"贵港","hr":29,"o3":125.6},
{"stn":"贵港","hr":30,"o3":126.5},{"stn":"贵港","hr":31,"o3":121},{"stn":"贵港","hr":32,"o3":115.3},{"stn":"贵港","hr":33,"o3":117},{"stn":"贵港","hr":34,"o3":124},{"stn":"贵港","hr":35,"o3":135.8},{"stn":"贵港","hr":36,"o3":147},{"stn":"贵港","hr":37,"o3":154},{"stn":"贵港","hr":38,"o3":155.3},{"stn":"贵港","hr":39,"o3":154.9},
{"stn":"贵港","hr":40,"o3":152.6},{"stn":"贵港","hr":41,"o3":149.3},{"stn":"贵港","hr":42,"o3":132.6},{"stn":"贵港","hr":43,"o3":119.1},{"stn":"贵港","hr":44,"o3":109.3},{"stn":"贵港","hr":45,"o3":102.3},{"stn":"贵港","hr":46,"o3":104.2},{"stn":"贵港","hr":47,"o3":111.6},{"stn":"贵港","hr":48,"o3":114.9},{"stn":"贵港","hr":49,"o3":113.5},
{"stn":"贵港","hr":50,"o3":107.9},{"stn":"贵港","hr":51,"o3":101.9},{"stn":"贵港","hr":52,"o3":95.3},{"stn":"贵港","hr":53,"o3":90.2},{"stn":"贵港","hr":54,"o3":85.6},{"stn":"贵港","hr":55,"o3":82.3},{"stn":"贵港","hr":56,"o3":82.8},{"stn":"贵港","hr":57,"o3":94.4},{"stn":"贵港","hr":58,"o3":108.8},{"stn":"贵港","hr":59,"o3":126},
{"stn":"贵港","hr":60,"o3":138.1},{"stn":"贵港","hr":61,"o3":145.1},{"stn":"贵港","hr":62,"o3":146.5},{"stn":"贵港","hr":63,"o3":144.7},{"stn":"贵港","hr":64,"o3":142.5},{"stn":"贵港","hr":65,"o3":137.7},{"stn":"贵港","hr":66,"o3":121.4},{"stn":"贵港","hr":67,"o3":107},{"stn":"贵港","hr":68,"o3":98.4},{"stn":"贵港","hr":69,"o3":91.6},
{"stn":"贵港","hr":70,"o3":87.9},{"stn":"贵港","hr":71,"o3":87.4},{"stn":"贵港","hr":72,"o3":94.9},{"stn":"贵港","hr":73,"o3":99.1},{"stn":"贵港","hr":74,"o3":100},{"stn":"贵港","hr":75,"o3":97.2},{"stn":"贵港","hr":76,"o3":94.4},{"stn":"贵港","hr":77,"o3":92.1},{"stn":"贵港","hr":78,"o3":90.2},{"stn":"贵港","hr":79,"o3":88.8},
{"stn":"贺州","hr":0,"o3":99.7},{"stn":"贺州","hr":1,"o3":100.9},{"stn":"贺州","hr":2,"o3":100.9},{"stn":"贺州","hr":3,"o3":99.5},{"stn":"贺州","hr":4,"o3":96.7},{"stn":"贺州","hr":5,"o3":93.5},{"stn":"贺州","hr":6,"o3":90.7},{"stn":"贺州","hr":7,"o3":89.3},{"stn":"贺州","hr":8,"o3":95.3},{"stn":"贺州","hr":9,"o3":104.2},
{"stn":"贺州","hr":10,"o3":110.7},{"stn":"贺州","hr":11,"o3":116.3},{"stn":"贺州","hr":12,"o3":118.1},{"stn":"贺州","hr":13,"o3":119.5},{"stn":"贺州","hr":14,"o3":120.5},{"stn":"贺州","hr":15,"o3":122.5},{"stn":"贺州","hr":16,"o3":125},{"stn":"贺州","hr":17,"o3":126},{"stn":"贺州","hr":18,"o3":124},{"stn":"贺州","hr":19,"o3":121},
{"stn":"贺州","hr":20,"o3":126},{"stn":"贺州","hr":21,"o3":131},{"stn":"贺州","hr":22,"o3":136},{"stn":"贺州","hr":23,"o3":142},{"stn":"贺州","hr":24,"o3":144},{"stn":"贺州","hr":25,"o3":144.7},{"stn":"贺州","hr":26,"o3":141.4},{"stn":"贺州","hr":27,"o3":134},{"stn":"贺州","hr":28,"o3":120},{"stn":"贺州","hr":29,"o3":103},
{"stn":"贺州","hr":30,"o3":92},{"stn":"贺州","hr":31,"o3":87},{"stn":"贺州","hr":32,"o3":89.3},{"stn":"贺州","hr":33,"o3":100.5},{"stn":"贺州","hr":34,"o3":115.3},{"stn":"贺州","hr":35,"o3":130.2},{"stn":"贺州","hr":36,"o3":143.3},{"stn":"贺州","hr":37,"o3":151.6},{"stn":"贺州","hr":38,"o3":155.8},{"stn":"贺州","hr":39,"o3":156.5},
{"stn":"贺州","hr":40,"o3":156.3},{"stn":"贺州","hr":41,"o3":153.5},{"stn":"贺州","hr":42,"o3":145.1},{"stn":"贺州","hr":43,"o3":138.6},{"stn":"贺州","hr":44,"o3":139.1},{"stn":"贺州","hr":45,"o3":138.1},{"stn":"贺州","hr":46,"o3":134.9},{"stn":"贺州","hr":47,"o3":129.3},{"stn":"贺州","hr":48,"o3":119.1},{"stn":"贺州","hr":49,"o3":104.2},
{"stn":"贺州","hr":50,"o3":90.2},{"stn":"贺州","hr":51,"o3":81.9},{"stn":"贺州","hr":52,"o3":78.1},{"stn":"贺州","hr":53,"o3":76.3},{"stn":"贺州","hr":54,"o3":76.3},{"stn":"贺州","hr":55,"o3":78.1},{"stn":"贺州","hr":56,"o3":89.3},{"stn":"贺州","hr":57,"o3":103.3},{"stn":"贺州","hr":58,"o3":115.3},{"stn":"贺州","hr":59,"o3":125.6},
{"stn":"贺州","hr":60,"o3":132.1},{"stn":"贺州","hr":61,"o3":134.9},{"stn":"贺州","hr":62,"o3":136.7},{"stn":"贺州","hr":63,"o3":136.7},{"stn":"贺州","hr":64,"o3":136.3},{"stn":"贺州","hr":65,"o3":133.5},{"stn":"贺州","hr":66,"o3":122.8},{"stn":"贺州","hr":67,"o3":116.7},{"stn":"贺州","hr":68,"o3":117.5},{"stn":"贺州","hr":69,"o3":120.5},
{"stn":"贺州","hr":70,"o3":117.7},{"stn":"贺州","hr":71,"o3":110.7},{"stn":"贺州","hr":72,"o3":104.7},{"stn":"贺州","hr":73,"o3":100.5},{"stn":"贺州","hr":74,"o3":97.7},{"stn":"贺州","hr":75,"o3":95.3},{"stn":"贺州","hr":76,"o3":93},{"stn":"贺州","hr":77,"o3":90.7},{"stn":"贺州","hr":78,"o3":88.8},{"stn":"贺州","hr":79,"o3":87.4},
{"stn":"钦州","hr":0,"o3":75.3},{"stn":"钦州","hr":1,"o3":68.4},{"stn":"钦州","hr":2,"o3":61.4},{"stn":"钦州","hr":3,"o3":54},{"stn":"钦州","hr":4,"o3":48.4},{"stn":"钦州","hr":5,"o3":46},{"stn":"钦州","hr":6,"o3":46.5},{"stn":"钦州","hr":7,"o3":48.8},{"stn":"钦州","hr":8,"o3":68.4},{"stn":"钦州","hr":9,"o3":90.7},
{"stn":"钦州","hr":10,"o3":114},{"stn":"钦州","hr":11,"o3":128},{"stn":"钦州","hr":12,"o3":133},{"stn":"钦州","hr":13,"o3":134.4},{"stn":"钦州","hr":14,"o3":134.9},{"stn":"钦州","hr":15,"o3":134.9},{"stn":"钦州","hr":16,"o3":134.4},{"stn":"钦州","hr":17,"o3":133},{"stn":"钦州","hr":18,"o3":123.7},{"stn":"钦州","hr":19,"o3":108.8},
{"stn":"钦州","hr":20,"o3":102.3},{"stn":"钦州","hr":21,"o3":95.3},{"stn":"钦州","hr":22,"o3":89.3},{"stn":"钦州","hr":23,"o3":84.7},{"stn":"钦州","hr":24,"o3":78.1},{"stn":"钦州","hr":25,"o3":74.4},{"stn":"钦州","hr":26,"o3":74.4},{"stn":"钦州","hr":27,"o3":76.5},{"stn":"钦州","hr":28,"o3":80},{"stn":"钦州","hr":29,"o3":83.7},
{"stn":"钦州","hr":30,"o3":86.5},{"stn":"钦州","hr":31,"o3":91},{"stn":"钦州","hr":32,"o3":111.2},{"stn":"钦州","hr":33,"o3":130.7},{"stn":"钦州","hr":34,"o3":143.3},{"stn":"钦州","hr":35,"o3":154},{"stn":"钦州","hr":36,"o3":162.3},{"stn":"钦州","hr":37,"o3":166},{"stn":"钦州","hr":38,"o3":166},{"stn":"钦州","hr":39,"o3":166},
{"stn":"钦州","hr":40,"o3":165},{"stn":"钦州","hr":41,"o3":161.9},{"stn":"钦州","hr":42,"o3":149.3},{"stn":"钦州","hr":43,"o3":134},{"stn":"钦州","hr":44,"o3":124.2},{"stn":"钦州","hr":45,"o3":114.4},{"stn":"钦州","hr":46,"o3":105.1},{"stn":"钦州","hr":47,"o3":98.6},{"stn":"钦州","hr":48,"o3":94},{"stn":"钦州","hr":49,"o3":87.4},
{"stn":"钦州","hr":50,"o3":83.7},{"stn":"钦州","hr":51,"o3":83.9},{"stn":"钦州","hr":52,"o3":85.1},{"stn":"钦州","hr":53,"o3":84.7},{"stn":"钦州","hr":54,"o3":83.3},{"stn":"钦州","hr":55,"o3":80.5},{"stn":"钦州","hr":56,"o3":85.6},{"stn":"钦州","hr":57,"o3":95.8},{"stn":"钦州","hr":58,"o3":110},{"stn":"钦州","hr":59,"o3":127},
{"stn":"钦州","hr":60,"o3":141.4},{"stn":"钦州","hr":61,"o3":153},{"stn":"钦州","hr":62,"o3":158.3},{"stn":"钦州","hr":63,"o3":159.3},{"stn":"钦州","hr":64,"o3":158},{"stn":"钦州","hr":65,"o3":154.4},{"stn":"钦州","hr":66,"o3":139},{"stn":"钦州","hr":67,"o3":122.3},{"stn":"钦州","hr":68,"o3":112.8},{"stn":"钦州","hr":69,"o3":104.7},
{"stn":"钦州","hr":70,"o3":95.8},{"stn":"钦州","hr":71,"o3":86.5},{"stn":"钦州","hr":72,"o3":80.9},{"stn":"钦州","hr":73,"o3":76.7},{"stn":"钦州","hr":74,"o3":72.6},{"stn":"钦州","hr":75,"o3":71.6},{"stn":"钦州","hr":76,"o3":76.3},{"stn":"钦州","hr":77,"o3":80},{"stn":"钦州","hr":78,"o3":80},{"stn":"钦州","hr":79,"o3":79.5},
{"stn":"防城港","hr":0,"o3":85.1},{"stn":"防城港","hr":1,"o3":80},{"stn":"防城港","hr":2,"o3":74.6},{"stn":"防城港","hr":3,"o3":69.3},{"stn":"防城港","hr":4,"o3":64.2},{"stn":"防城港","hr":5,"o3":59.7},{"stn":"防城港","hr":6,"o3":56.7},{"stn":"防城港","hr":7,"o3":55.8},{"stn":"防城港","hr":8,"o3":68.4},{"stn":"防城港","hr":9,"o3":87.9},
{"stn":"防城港","hr":10,"o3":111.2},{"stn":"防城港","hr":11,"o3":129.3},{"stn":"防城港","hr":12,"o3":135.8},{"stn":"防城港","hr":13,"o3":138.1},{"stn":"防城港","hr":14,"o3":138.6},{"stn":"防城港","hr":15,"o3":138.6},{"stn":"防城港","hr":16,"o3":136.9},{"stn":"防城港","hr":17,"o3":133},{"stn":"防城港","hr":18,"o3":121.4},{"stn":"防城港","hr":19,"o3":108.4},
{"stn":"防城港","hr":20,"o3":105.1},{"stn":"防城港","hr":21,"o3":106},{"stn":"防城港","hr":22,"o3":102.8},{"stn":"防城港","hr":23,"o3":100},{"stn":"防城港","hr":24,"o3":95.8},{"stn":"防城港","hr":25,"o3":91.2},{"stn":"防城港","hr":26,"o3":86.5},{"stn":"防城港","hr":27,"o3":81.9},{"stn":"防城港","hr":28,"o3":81.4},{"stn":"防城港","hr":29,"o3":83.7},
{"stn":"防城港","hr":30,"o3":86},{"stn":"防城港","hr":31,"o3":91.6},{"stn":"防城港","hr":32,"o3":108.4},{"stn":"防城港","hr":33,"o3":127},{"stn":"防城港","hr":34,"o3":142.8},{"stn":"防城港","hr":35,"o3":156.1},{"stn":"防城港","hr":36,"o3":165.1},{"stn":"防城港","hr":37,"o3":169.8},{"stn":"防城港","hr":38,"o3":170.2},{"stn":"防城港","hr":39,"o3":168.2},
{"stn":"防城港","hr":40,"o3":165.8},{"stn":"防城港","hr":41,"o3":161.9},{"stn":"防城港","hr":42,"o3":151.6},{"stn":"防城港","hr":43,"o3":137.9},{"stn":"防城港","hr":44,"o3":132.4},{"stn":"防城港","hr":45,"o3":126.8},{"stn":"防城港","hr":46,"o3":117.9},{"stn":"防城港","hr":47,"o3":109.1},{"stn":"防城港","hr":48,"o3":102.8},{"stn":"防城港","hr":49,"o3":96.3},
{"stn":"防城港","hr":50,"o3":91.2},{"stn":"防城港","hr":51,"o3":90.7},{"stn":"防城港","hr":52,"o3":91.9},{"stn":"防城港","hr":53,"o3":91.9},{"stn":"防城港","hr":54,"o3":90.2},{"stn":"防城港","hr":55,"o3":87.4},{"stn":"防城港","hr":56,"o3":90.2},{"stn":"防城港","hr":57,"o3":100},{"stn":"防城港","hr":58,"o3":112.6},{"stn":"防城港","hr":59,"o3":128.8},
{"stn":"防城港","hr":60,"o3":143.1},{"stn":"防城港","hr":61,"o3":154.7},{"stn":"防城港","hr":62,"o3":160.9},{"stn":"防城港","hr":63,"o3":162.1},{"stn":"防城港","hr":64,"o3":159.8},{"stn":"防城港","hr":65,"o3":155.3},{"stn":"防城港","hr":66,"o3":143.7},{"stn":"防城港","hr":67,"o3":130.4},{"stn":"防城港","hr":68,"o3":124.8},{"stn":"防城港","hr":69,"o3":116},
{"stn":"防城港","hr":70,"o3":108.2},{"stn":"防城港","hr":71,"o3":100.9},{"stn":"防城港","hr":72,"o3":92.8},{"stn":"防城港","hr":73,"o3":87.4},{"stn":"防城港","hr":74,"o3":82.3},{"stn":"防城港","hr":75,"o3":77.2},{"stn":"防城港","hr":76,"o3":78.3},{"stn":"防城港","hr":77,"o3":83.3},{"stn":"防城港","hr":78,"o3":86},{"stn":"防城港","hr":79,"o3":85.8}
],
"avg": [
{"hr":0,"o3":89.3},{"hr":1,"o3":87.9},{"hr":2,"o3":86.5},{"hr":3,"o3":85.1},{"hr":4,"o3":84},{"hr":5,"o3":83},{"hr":6,"o3":82.3},{"hr":7,"o3":82.3},{"hr":8,"o3":93},{"hr":9,"o3":106},
{"hr":10,"o3":117},{"hr":11,"o3":127.4},{"hr":12,"o3":132},{"hr":13,"o3":135},{"hr":14,"o3":136.5},{"hr":15,"o3":137.7},{"hr":16,"o3":138},{"hr":17,"o3":136.7},{"hr":18,"o3":128},{"hr":19,"o3":116},
{"hr":20,"o3":111},{"hr":21,"o3":109.5},{"hr":22,"o3":108.8},{"hr":23,"o3":108.4},{"hr":24,"o3":107.9},{"hr":25,"o3":107},{"hr":26,"o3":105.6},{"hr":27,"o3":103.3},{"hr":28,"o3":102.3},{"hr":29,"o3":100},
{"hr":30,"o3":97.7},{"hr":31,"o3":94.9},{"hr":32,"o3":101.4},{"hr":33,"o3":111.6},{"hr":34,"o3":126.5},{"hr":35,"o3":135.8},{"hr":36,"o3":143.3},{"hr":37,"o3":147.9},{"hr":38,"o3":150.2},{"hr":39,"o3":150.9},
{"hr":40,"o3":150.5},{"hr":41,"o3":148},{"hr":42,"o3":138.6},{"hr":43,"o3":126.5},{"hr":44,"o3":118.1},{"hr":45,"o3":115.3},{"hr":46,"o3":112.6},{"hr":47,"o3":108.8},{"hr":48,"o3":104.2},{"hr":49,"o3":99.5},
{"hr":50,"o3":94.9},{"hr":51,"o3":91.6},{"hr":52,"o3":88.8},{"hr":53,"o3":86.5},{"hr":54,"o3":83.7},{"hr":55,"o3":81.4},{"hr":56,"o3":85.6},{"hr":57,"o3":95},{"hr":58,"o3":101.4},{"hr":59,"o3":111.6},
{"hr":60,"o3":121},{"hr":61,"o3":129.3},{"hr":62,"o3":134},{"hr":63,"o3":135.8},{"hr":64,"o3":135.8},{"hr":65,"o3":134},{"hr":66,"o3":122.8},{"hr":67,"o3":113.5},{"hr":68,"o3":107.5},{"hr":69,"o3":103.3},
{"hr":70,"o3":99},{"hr":71,"o3":94.9},{"hr":72,"o3":91.6},{"hr":73,"o3":88.8},{"hr":74,"o3":86.5},{"hr":75,"o3":84.7},{"hr":76,"o3":83.3},{"hr":77,"o3":82.3},{"hr":78,"o3":81.4},{"hr":79,"o3":80.5}
],
"run8": [
{"hr":0,"o3":90.2},{"hr":1,"o3":87.9},{"hr":2,"o3":86.5},{"hr":3,"o3":85.6},{"hr":4,"o3":85.1},{"hr":5,"o3":85.1},{"hr":6,"o3":85.6},{"hr":7,"o3":88.8},{"hr":8,"o3":94.4},{"hr":9,"o3":101.4},
{"hr":10,"o3":110.2},{"hr":11,"o3":118.1},{"hr":12,"o3":124.7},{"hr":13,"o3":130.2},{"hr":14,"o3":133},{"hr":15,"o3":133},{"hr":16,"o3":133},{"hr":17,"o3":131.6},{"hr":18,"o3":129.3},{"hr":19,"o3":126.5},
{"hr":20,"o3":122.8},{"hr":21,"o3":118.1},{"hr":22,"o3":113.5},{"hr":23,"o3":109.8},{"hr":24,"o3":107.9},{"hr":25,"o3":107.4},{"hr":26,"o3":107},{"hr":27,"o3":104.2},{"hr":28,"o3":102.8},{"hr":29,"o3":101.9},
{"hr":30,"o3":101.9},{"hr":31,"o3":103.3},{"hr":32,"o3":107},{"hr":33,"o3":112.6},{"hr":34,"o3":119.1},{"hr":35,"o3":126.5},{"hr":36,"o3":134},{"hr":37,"o3":140.5},{"hr":38,"o3":143.3},{"hr":39,"o3":144.7},
{"hr":40,"o3":143.3},{"hr":41,"o3":141},{"hr":42,"o3":136.7},{"hr":43,"o3":131.2},{"hr":44,"o3":125.6},{"hr":45,"o3":119.1},{"hr":46,"o3":113.5},{"hr":47,"o3":108.8},{"hr":48,"o3":104.2},{"hr":49,"o3":99.5},
{"hr":50,"o3":95.8},{"hr":51,"o3":93},{"hr":52,"o3":90.7},{"hr":53,"o3":89.3},{"hr":54,"o3":88.8},{"hr":55,"o3":90},{"hr":56,"o3":93.5},{"hr":57,"o3":98.6},{"hr":58,"o3":105.1},{"hr":59,"o3":111.6},
{"hr":60,"o3":117.2},{"hr":61,"o3":122.8},{"hr":62,"o3":127},{"hr":63,"o3":129.3},{"hr":64,"o3":128.8},{"hr":65,"o3":126.5},{"hr":66,"o3":122.8},{"hr":67,"o3":118.1},{"hr":68,"o3":113.5},{"hr":69,"o3":108.8},
{"hr":70,"o3":102.3},{"hr":71,"o3":98.1},{"hr":72,"o3":94.4},{"hr":73,"o3":91.6},{"hr":74,"o3":89.3},{"hr":75,"o3":87},{"hr":76,"o3":85.1}
],
"notes": [
{"label":"Daily maximum of O₃-8h","hr":18.05,"o3":146},
{"label":"10-6 : 133","hr":22.05,"o3":133.8},
{"label":"10-7 : 145","hr":22.05,"o3":122.3},
{"label":"10-8 : 129","hr":22.05,"o3":111.2}
]
},
"resolve": {"axis": {"x": "independent", "y": "independent"}},
"layer": [
{
 "data": {"name": "obs"},
 "mark": {"type": "line", "strokeWidth": 1.8},
 "encoding": {
  "x": {"field": "hr", "type": "quantitative", "scale": {"domain": [0, 79], "nice": false, "zero": false},
   "axis": {"orient": "bottom", "values": [0,4,8,12,16,20,24,28,32,36,40,44,48,52,56,60,64,68,72,76],
    "labelExpr": "datum.value % 24 == 0 ? '10-' + (6 + datum.value / 24) + ' 00' : (datum.value % 24 < 10 ? '0' : '') + (datum.value % 24)",
    "ticks": false, "labelPadding": 19, "labelFontSize": 24, "labelFlush": false, "labelOverlap": false,
    "title": "Date", "titleFontSize": 25, "titlePadding": 10}},
  "y": {"field": "o3", "type": "quantitative", "scale": {"domain": [40, 180], "nice": false, "zero": false},
   "axis": {"orient": "left", "values": [40, 80, 120, 160], "ticks": false, "labelPadding": 12, "labelFontSize": 24,
    "title": "O₃ concentrations [μg m⁻³]", "titleFontSize": 25, "titlePadding": 22}},
  "color": {"field": "stn", "type": "nominal",
   "scale": {"domain": ["南宁","北海","崇左","来宾","柳州","桂林","梧州","河池","玉林","百色","贵港","贺州","钦州","防城港"],
    "range": ["#CD853F","#4682B4","#87CEFA","#87CEFA","#6A5ACD","#FFD700","#FF8C00","#4682B4","#9ACD32","#DA70D6","#9ACD32","#20B2AA","#FFD700","#DA70D6"]},
   "legend": {"orient": "none", "legendX": -195.5, "legendY": -72, "direction": "horizontal", "columns": 14, "title": null,
    "symbolType": "stroke", "symbolSize": 3844, "symbolStrokeWidth": 1.8, "labelFont": "Noto Sans CJK SC", "labelFontSize": 16,
    "labelColor": "#000000", "labelOffset": 5.6, "columnPadding": 7.5, "padding": 0, "labelLimit": 0,
    "encode": {"symbols": {"update": {
      "shape": {"signal": "['M-1,0H1M0,-0.32L0.268,0.16L-0.268,0.16Z','M-1,0H1M0,-0.24V0.24','M-1,0H1M0,-0.24V0.24','M-1,0H1M0,-0.24V0.24M-0.17,-0.17L0.17,0.17M-0.17,0.17L0.17,-0.17','M-1,0H1M0,-0.27L0.2,0L0,0.27L-0.2,0Z','M-1,0H1M0,-0.32L0.268,0.16L-0.268,0.16Z','M-1,0H1M-0.175,-0.175H0.175V0.175H-0.175Z'][indexof(['南宁','来宾','柳州','河池','贵港','钦州','防城港'], datum.value)] || 'M-1,0H1'"},
      "fill": {"value": "transparent"},
      "opacity": {"value": 1}}}}}}
 }
},
{
 "data": {"name": "obs"},
 "transform": [{"filter": {"field": "stn", "oneOf": ["南宁","来宾","柳州","河池","贵港","钦州","防城港"]}}],
 "mark": {"type": "point", "filled": false, "strokeWidth": 1.6, "size": 276, "opacity": 1},
 "encoding": {
  "x": {"field": "hr", "type": "quantitative", "axis": {"orient": "top", "values": [0,4,8,12,16,20,24,28,32,36,40,44,48,52,56,60,64,68,72,76], "labels": false, "ticks": true, "tickSize": -13, "title": null}},
  "y": {"field": "o3", "type": "quantitative", "axis": {"orient": "right", "values": [40, 80, 120, 160], "labels": false, "ticks": true, "tickSize": -13, "title": null}},
  "color": {"field": "stn", "type": "nominal"},
  "shape": {"field": "stn", "type": "nominal",
   "scale": {"domain": ["南宁","来宾","柳州","河池","贵港","钦州","防城港"],
    "range": ["M0,-1.2L1,0.6L-1,0.6Z","M-0.9,0H0.9M0,-0.9V0.9","M-0.9,0H0.9M0,-0.9V0.9","M-0.9,0H0.9M0,-0.9V0.9M-0.64,-0.64L0.64,0.64M-0.64,0.64L0.64,-0.64","M0,-1L0.75,0L0,1L-0.75,0Z","M0,-1.2L1,0.6L-1,0.6Z","M-0.65,-0.65H0.65V0.65H-0.65Z"]},
   "legend": null}
 }
},
{
 "data": {"name": "avg"},
 "mark": {"type": "line", "color": "#000000", "strokeWidth": 4},
 "encoding": {
  "x": {"field": "hr", "type": "quantitative", "axis": {"orient": "bottom", "values": [0,4,8,12,16,20,24,28,32,36,40,44,48,52,56,60,64,68,72,76], "labels": false, "ticks": true, "tickSize": -13, "title": null}},
  "y": {"field": "o3", "type": "quantitative", "axis": {"orient": "left", "values": [40, 80, 120, 160], "labels": false, "ticks": true, "tickSize": -13, "title": null}}
 }
},
{
 "data": {"name": "run8"},
 "mark": {"type": "line", "color": "#FF0000", "strokeWidth": 4},
 "encoding": {
  "x": {"field": "hr", "type": "quantitative", "axis": null},
  "y": {"field": "o3", "type": "quantitative", "axis": null}
 }
},
{
 "data": {"name": "notes"},
 "mark": {"type": "text", "align": "left", "baseline": "alphabetic", "font": "Open Sans", "fontSize": 23, "color": "#000000"},
 "encoding": {
  "x": {"field": "hr", "type": "quantitative", "axis": null},
  "y": {"field": "o3", "type": "quantitative", "axis": null},
  "text": {"field": "label"}
 }
}
]
}
